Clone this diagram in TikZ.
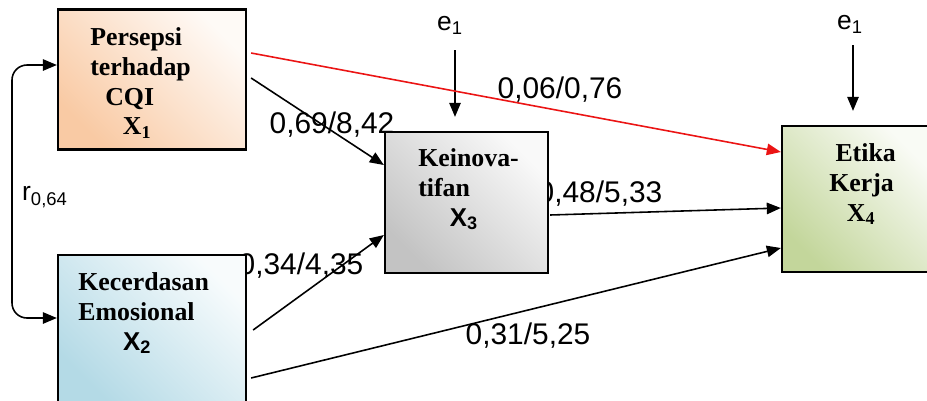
\documentclass[tikz,border=0pt]{standalone}
\usepackage{fontspec}
\setmainfont{Liberation Serif}
\setsansfont{Liberation Sans}
\newfontfamily\numfont{Liberation Sans}
\usetikzlibrary{arrows.meta, positioning, calc}
\definecolor{PeachTone}{RGB}{249,202,164}
\definecolor{BlueTone}{RGB}{180,218,230}
\definecolor{GrayTone}{RGB}{195,195,195}
\definecolor{GreenTone}{RGB}{195,214,155}
\definecolor{PathRed}{RGB}{235,20,20}
\tikzset{
  var/.style={rectangle, draw=black, line width=1.3pt, inner sep=0pt,
              bottom color=#1, top color=#1!10, shading angle=-45},
  vartext/.style={anchor=north west, inner sep=0pt, align=left,
                  font=\fontsize{14.7}{17}\selectfont\bfseries},
  coef/.style={inner sep=0pt, font=\numfont\fontsize{17}{20}\selectfont},
  err/.style={inner sep=0pt, font=\numfont\fontsize{15}{18}\selectfont},
  arr/.style={-{Triangle[length=8pt,width=6.5pt]}, line width=0.9pt, draw=#1},
  arr/.default=black,
  dblarr/.style={{Triangle[length=8pt,width=6.5pt]}-{Triangle[length=8pt,width=6.5pt]},
                 line width=0.9pt},
}

\begin{document}
\begin{tikzpicture}[x=0.02cm, y=-0.02cm]
  \clip (0,0) rectangle (927,400);

  % path coefficients (set behind the boxes)
  \node[coef] (c13) at (332,125) {0,69/8,42};
  \node[coef] (c14) at (560,90) {0,06/0,76};
  \node[coef] (c23) at (301,266) {0,34/4,35};
  \node[coef] (c34) at (600,194) {0,48/5,33};
  \node[coef] (c24) at (528,336) {0,31/5,25};
  \node[err] (r12) at (45,197) {r\textsubscript{0,64}};

  % variables
  \node[var=PeachTone, minimum width=3.76cm, minimum height=2.8cm] (X1) at (152,79.5) {};
  \node[var=BlueTone, minimum width=3.76cm, minimum height=2.94cm] (X2) at (152,328.5) {};
  \node[var=GrayTone, minimum width=3.26cm, minimum height=2.82cm] (X3) at (466.5,202.5) {};
  \node[var=GreenTone, minimum width=2.96cm, minimum height=2.92cm] (X4) at (856,199) {};

  \node[vartext] (t1) at (90,27) {Persepsi\\terhadap\\\hspace*{8.5pt}CQI\\\hspace*{18.5pt}X\textsubscript{1}};
  \node[vartext] (t2) at (78,272) {Kecerdasan\\Emosional\\\hspace*{25.5pt}{\sffamily X\textsubscript{2}}};
  \node[vartext] (t3) at (418,148) {Keinova-\\tifan\\\hspace*{18pt}{\sffamily X\textsubscript{3}}};
  \node[vartext] (t4) at (829,143) {\hspace*{3.5pt}Etika\\Kerja\\\hspace*{10pt}X\textsubscript{4}};

  % error terms
  \node[err] (e3) at (450,25) {e\textsubscript{1}};
  \node[err] (e4) at (850,24) {e\textsubscript{1}};
  \coordinate (s3) at (455,50);
  \coordinate (s4) at (853,45);
  \draw[arr] (s3) -- ($(s3 |- X3.north)+(0,-14)$);
  \draw[arr] (s4) -- ($(s4 |- X4.north)+(0,-14)$);

  % correlation
  \draw[dblarr, rounded corners=0.3cm] ($(X1.west)+(0,-14.5)$) -| (12,190) |- ($(X2.west)+(0,-10.5)$);

  % paths
  \draw[arr] ($(X1.east)+(4,-1.5)$) -- ($(X3.west)+(0,-37.5)$);
  \draw[arr=PathRed] ($(X1.east)+(4,-26.5)$) -- ($(X4.west)+(0,-47)$);
  \draw[arr] ($(X2.east)+(6,1.5)$) -- ($(X3.west)+(0,32.5)$);
  \draw[arr] ($(X2.east)+(4,49.5)$) -- ($(X4.west)+(0,49)$);
  \draw[arr] ($(X3.east)+(1,12.5)$) -- ($(X4.west)+(0,9)$);
\end{tikzpicture}
\end{document}
